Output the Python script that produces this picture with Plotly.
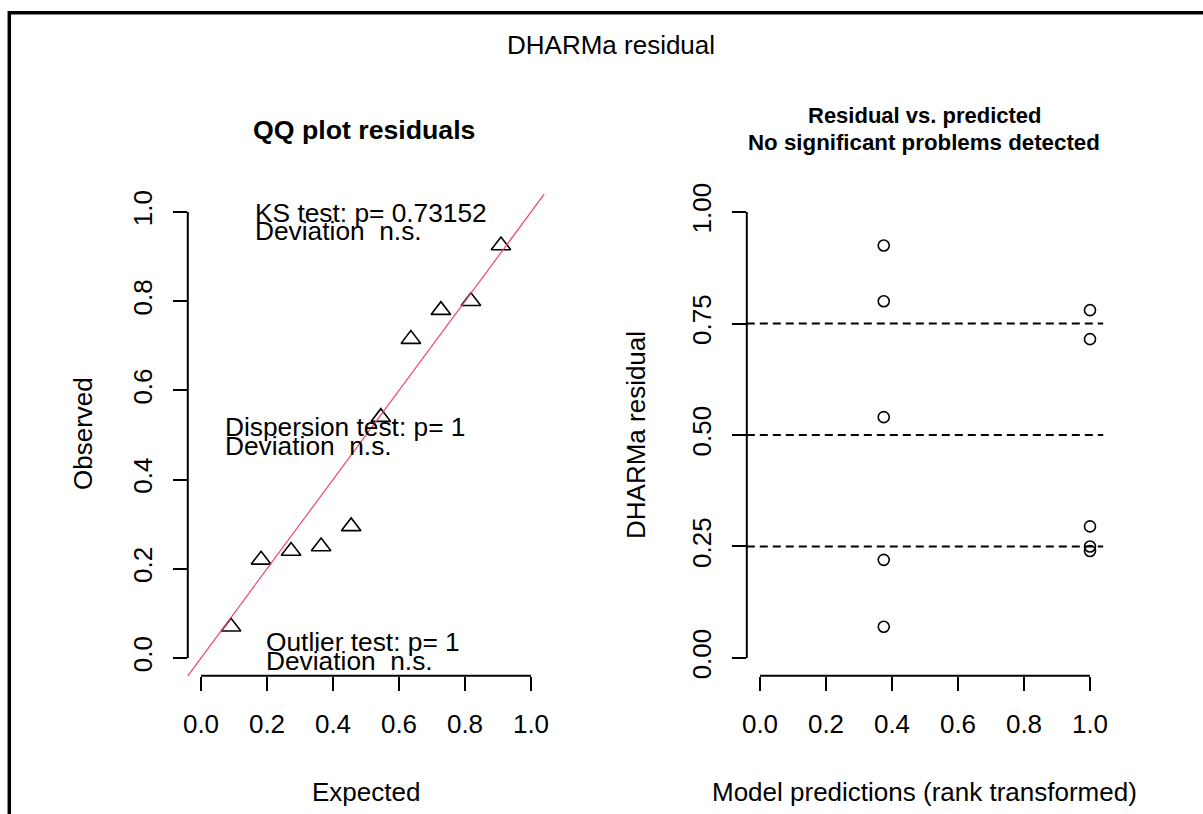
import plotly.graph_objects as go

W, H = 1203, 814

# Scaled (DHARMa) residuals with their rank-transformed model predictions
pred_rank = [0.375, 0.375, 0.375, 0.375, 0.375, 1.0, 1.0, 1.0, 1.0, 1.0]
residual = [0.925, 0.80, 0.54, 0.22, 0.07, 0.78, 0.715, 0.295, 0.25, 0.24]

# Uniform QQ: expected quantiles against sorted residuals
expected = [0.091, 0.182, 0.273, 0.364, 0.455, 0.545, 0.636, 0.727, 0.818, 0.909]
observed = sorted(residual)

x_ticks = [0.0, 0.2, 0.4, 0.6, 0.8, 1.0]
x_tick_text = ["0.0", "0.2", "0.4", "0.6", "0.8", "1.0"]
qq_y_ticks = [0.0, 0.2, 0.4, 0.6, 0.8, 1.0]
qq_y_tick_text = ["0.0", "0.2", "0.4", "0.6", "0.8", "1.0"]
res_y_ticks = [0.0, 0.25, 0.5, 0.75, 1.0]
res_y_tick_text = ["0.00", "0.25", "0.50", "0.75", "1.00"]
quantile_lines = [0.25, 0.5, 0.75]

test_lines = [
    ("KS test: p= 0.73152", "Deviation  n.s."),
    ("Dispersion test: p= 1", "Deviation  n.s."),
    ("Outlier test: p= 1", "Deviation  n.s."),
]

FONT = "Liberation Sans, Arial, sans-serif"
AX_RANGE = [-0.04, 1.04]


def px_x(x):
    return x / W


def px_y(y):
    return 1 - y / H


LEFT_X = (187.8, 544.2)
RIGHT_X = (746.8, 1103.2)
PLOT_Y = (194.2, 675.8)

fig = go.Figure()

fig.add_trace(go.Scatter(
    x=expected, y=observed, mode="markers", xaxis="x", yaxis="y",
    marker=dict(symbol="triangle-up-open", size=17, color="black",
                line=dict(width=1.6, color="black")),
    showlegend=False, hoverinfo="skip"))

fig.add_trace(go.Scatter(
    x=pred_rank, y=residual, mode="markers", xaxis="x2", yaxis="y2",
    marker=dict(symbol="circle-open", size=11, color="black",
                line=dict(width=1.6, color="black")),
    showlegend=False, hoverinfo="skip"))

axis_common = dict(range=AX_RANGE, showgrid=False, zeroline=False, showline=False,
                   ticks="outside", ticklen=14, tickwidth=2, tickcolor="black",
                   tickfont=dict(family=FONT, size=26, color="black"),
                   fixedrange=True, automargin=False)

fig.update_layout(
    width=W, height=H,
    margin=dict(l=0, r=0, t=0, b=0),
    paper_bgcolor="white", plot_bgcolor="white",
    xaxis=dict(domain=[px_x(LEFT_X[0]), px_x(LEFT_X[1])], anchor="y",
               tickvals=x_ticks, ticktext=x_tick_text, ticklabelstandoff=11,
               **axis_common),
    yaxis=dict(domain=[px_y(PLOT_Y[1]), px_y(PLOT_Y[0])], anchor="x",
               tickvals=qq_y_ticks, ticktext=qq_y_tick_text, tickangle=-90,
               ticklabelstandoff=10, **axis_common),
    xaxis2=dict(domain=[px_x(RIGHT_X[0]), px_x(RIGHT_X[1])], anchor="y2",
                tickvals=x_ticks, ticktext=x_tick_text, ticklabelstandoff=11,
                **axis_common),
    yaxis2=dict(domain=[px_y(PLOT_Y[1]), px_y(PLOT_Y[0])], anchor="x2",
                tickvals=res_y_ticks, ticktext=res_y_tick_text, tickangle=-90,
                ticklabelstandoff=10, **axis_common),
)

shapes = []
# Axis lines spanning only the tick range
for xa, ya in (("x", "y"), ("x2", "y2")):
    shapes.append(dict(type="line", xref=xa, yref=f"{ya} domain",
                       x0=x_ticks[0], x1=x_ticks[-1], y0=0, y1=0,
                       line=dict(color="black", width=2)))
shapes.append(dict(type="line", xref="x domain", yref="y", x0=0, x1=0,
                   y0=qq_y_ticks[0], y1=qq_y_ticks[-1], line=dict(color="black", width=2)))
shapes.append(dict(type="line", xref="x2 domain", yref="y2", x0=0, x1=0,
                   y0=res_y_ticks[0], y1=res_y_ticks[-1], line=dict(color="black", width=2)))
# 1:1 reference line of the QQ plot
shapes.append(dict(type="line", xref="x domain", yref="y domain", x0=0, y0=0, x1=1, y1=1,
                   line=dict(color="#f0466e", width=1.2)))
# Quantile reference lines
for q in quantile_lines:
    shapes.append(dict(type="line", xref="x2 domain", yref="y2", x0=0, x1=1, y0=q, y1=q,
                       line=dict(color="black", width=2, dash="8px,5px")))
# Outer frame
shapes.append(dict(type="line", xref="paper", yref="paper", x0=px_x(8), x1=1,
                   y0=px_y(12.7), y1=px_y(12.7), line=dict(color="black", width=3.5)))
shapes.append(dict(type="line", xref="paper", yref="paper", x0=px_x(9.3), x1=px_x(9.3),
                   y0=px_y(11), y1=0, line=dict(color="black", width=3.5)))
fig.update_layout(shapes=shapes)

ann = []


def text(x, y, s, size=26, bold=False, xanchor="center", angle=0):
    ann.append(dict(x=px_x(x), y=px_y(y), xref="paper", yref="paper", text=f"<b>{s}</b>" if bold else s,
                    showarrow=False, xanchor=xanchor, yanchor="middle", textangle=angle,
                    font=dict(family=FONT, size=size, color="black")))


text(611, 45, "DHARMa residual")
text(364, 130, "QQ plot residuals", size=26.7, bold=True)
text(925, 116, "Residual vs. predicted", size=22, bold=True)
text(924, 142, "No significant problems detected", size=22.3, bold=True)
text(366, 792, "Expected")
text(924, 792, "Model predictions (rank transformed)")
text(83, 434, "Observed", angle=-90)
text(636, 435, "DHARMa residual", angle=-90)

# Test summaries inside the QQ panel
test_pos = [(253, 212.5), (223, 427), (264, 642)]
for (line1, line2), (x, y) in zip(test_lines, test_pos):
    text(x, y, line1, size=26.3, xanchor="left")
    text(x, y + 19, line2, size=26.3, xanchor="left")

fig.update_layout(annotations=ann)

fig.write_html("out.html")
